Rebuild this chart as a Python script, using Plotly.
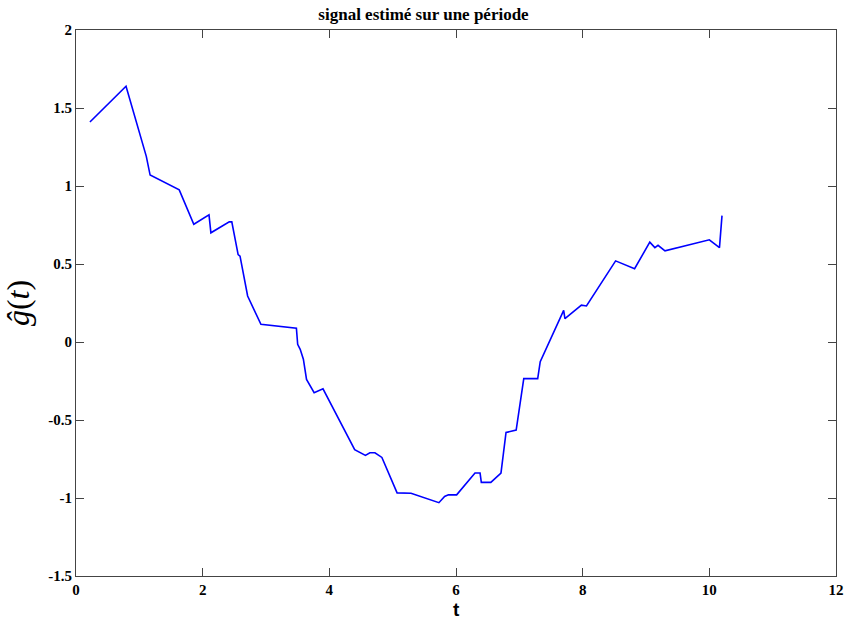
import plotly.graph_objects as go

t = [0.22, 0.79, 1.11, 1.17, 1.63, 1.86, 2.10, 2.13, 2.42, 2.46, 2.56, 2.59, 2.71, 2.92,
     3.48, 3.50, 3.54, 3.59, 3.64, 3.76, 3.90, 4.40, 4.57, 4.64, 4.72, 4.83, 5.07, 5.29,
     5.73, 5.82, 5.88, 6.01, 6.30, 6.38, 6.40, 6.55, 6.71, 6.79, 6.95, 7.07, 7.29, 7.33,
     7.70, 7.72, 7.98, 8.06, 8.52, 8.82, 9.06, 9.14, 9.19, 9.30, 10.0, 10.16, 10.2]
g = [1.41, 1.64, 1.19, 1.07, 0.975, 0.755, 0.815, 0.70, 0.77, 0.77, 0.56, 0.55, 0.295, 0.113,
     0.088, -0.015, -0.047, -0.11, -0.24, -0.325, -0.30, -0.69, -0.727, -0.71, -0.71, -0.74, -0.967, -0.97,
     -1.03, -0.99, -0.98, -0.98, -0.84, -0.84, -0.90, -0.90, -0.84, -0.58, -0.565, -0.235, -0.235, -0.126,
     0.203, 0.15, 0.236, 0.231, 0.52, 0.47, 0.64, 0.605, 0.62, 0.584, 0.655, 0.605, 0.81]

x_ticks = [0, 2, 4, 6, 8, 10, 12]
y_ticks = [-1.5, -1, -0.5, 0, 0.5, 1, 1.5, 2]
y_tick_text = ["-1.5", "-1", "-0.5", "0", "0.5", "1", "1.5", "2"]

fig = go.Figure()
fig.add_trace(go.Scatter(x=t, y=g, mode="lines",
                         line=dict(color="#0000ff", width=1.6), showlegend=False))

tickfont = dict(family="Liberation Serif", size=15, color="black")
axis_common = dict(showgrid=False, zeroline=False, showline=True, linecolor="#444444",
                   linewidth=1, mirror="ticks", ticks="inside", ticklen=8,
                   tickcolor="#444444", tickfont=tickfont, automargin=False)

fig.update_layout(
    width=847, height=621,
    paper_bgcolor="white", plot_bgcolor="white",
    margin=dict(l=76, r=11, t=30, b=45),
    title=dict(text="<b>signal estimé sur une période</b>", x=0.5, xanchor="center",
               y=1, yref="paper", yanchor="bottom", pad=dict(b=10),
               font=dict(family="Liberation Serif", size=17, color="black"),
               automargin=False),
    xaxis=dict(range=[0, 12], tickvals=x_ticks, ticktext=["<b>%d</b>" % v for v in x_ticks],
               **axis_common),
    yaxis=dict(range=[-1.5, 2], tickvals=y_ticks, ticktext=["<b>%s</b>" % s for s in y_tick_text],
               title=dict(text="<i>g\u0302</i>(<i>t</i>)", standoff=10,
                          font=dict(family="Liberation Serif", size=32, color="black")),
               **axis_common),
    annotations=[dict(text="<b>t</b>", xref="paper", yref="paper", x=0.5, y=0,
                      xanchor="center", yanchor="top", yshift=-21, showarrow=False,
                      font=dict(family="Liberation Sans Narrow, Liberation Sans", size=19, color="black"))],
)

fig.write_html("out.html")
